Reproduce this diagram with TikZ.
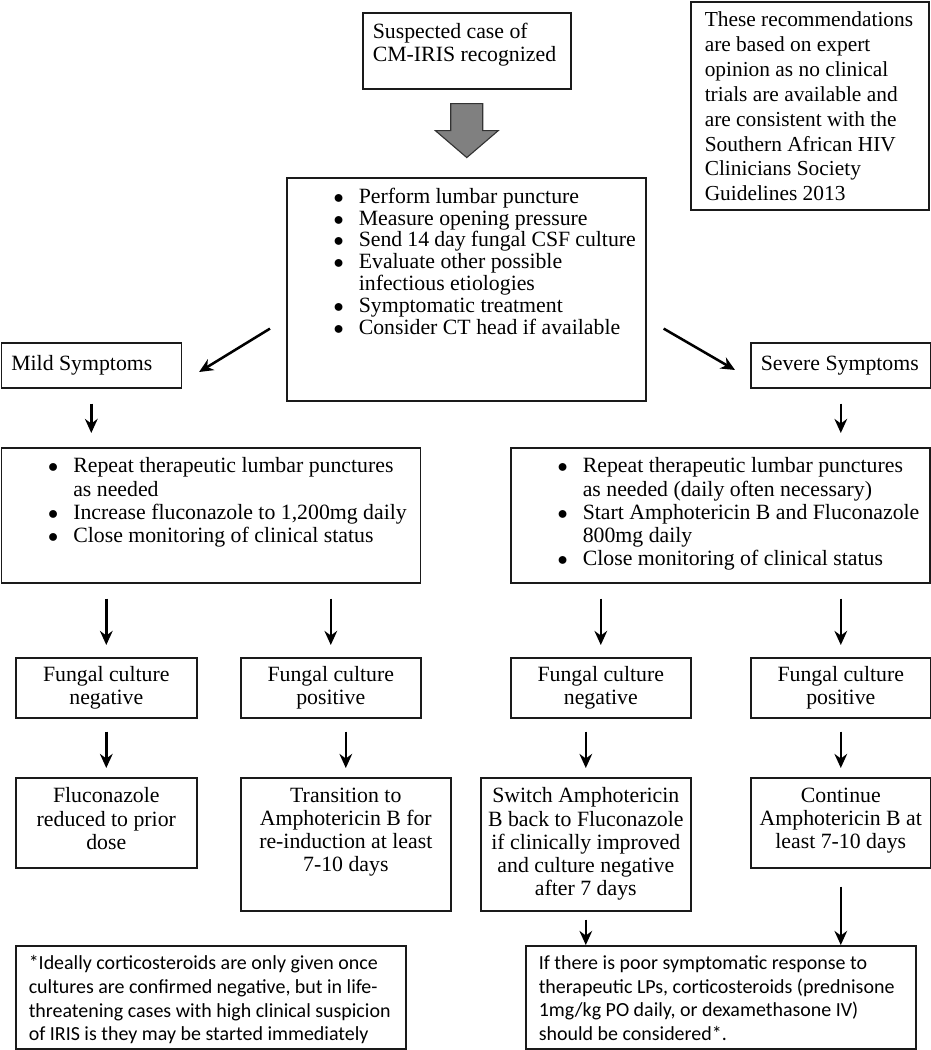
\documentclass[tikz,border=0pt]{standalone}
\usepackage{fontspec}
\setmainfont{Liberation Serif}
\newfontfamily\calfont{Carlito}
\usetikzlibrary{arrows.meta, calc}
\usepackage{xcolor}
\definecolor{boxLine}{HTML}{1A1A1A}
\definecolor{blockFill}{HTML}{808080}
\newcommand{\cell}[4]{\parbox[t][#2][#3]{#1}{#4}}
\newcommand{\bul}[1]{\par\leftskip=1.55cm\noindent\llap{\makebox[0.63cm][l]{$\bullet$}}#1\par}
\tikzset{
    BoxStyle/.style={draw=boxLine, line width=1.1pt, rectangle, anchor=north west, inner xsep=0.25cm, inner ysep=0.25cm},
    MidBox/.style={BoxStyle, inner xsep=0.05cm},
    MainText/.style={font=\fontsize{15.5}{16.5}\selectfont},
    ListText/.style={font=\fontsize{15.5}{15.6}\selectfont},
    NoteText/.style={font=\fontsize{15.2}{17.7}\selectfont},
    FootText/.style={font=\calfont\fontsize{14.2}{16.8}\selectfont, inner xsep=0.325cm},
    FlowArrow/.style={-{Stealth[length=10pt, width=9pt]}, line width=1.8pt}
}

\begin{document}
\begin{tikzpicture}[x=0.025cm, y=-0.025cm]
    \useasboundingbox (0,0) rectangle (931,1050);

    % top
    \node[BoxStyle, MainText] (susp) at (362,12) {\cell{4.7cm}{1.4cm}{t}{Suspected case of\\CM-IRIS recognized}};
    \node[BoxStyle, NoteText, inner xsep=0.35cm] (note) at (690,1) {\cell{5.25cm}{4.7cm}{t}{These recommendations\\are based on expert\\opinion as no clinical\\trials are available and\\are consistent with the\\Southern African HIV\\Clinicians Society\\Guidelines 2013}};

    \node[BoxStyle, ListText] (center) at (286,177) {\cell{8.475cm}{5.075cm}{t}{%
        \bul{Perform lumbar puncture}
        \bul{Measure opening pressure}
        \bul{Send 14 day fungal CSF culture}
        \bul{Evaluate other possible\\infectious etiologies}
        \bul{Symptomatic treatment}
        \bul{Consider CT head if available}}};

    % big grey arrow
    \draw[draw=black!80, line width=0.8pt, fill=blockFill] ($(susp.south)+(-16,14)$) -- ++(32,0) -- ++(0,27) -- ++(15.5,0) -- ++(-31.5,27) -- ++(-31.5,-27) -- ++(15.5,0) -- cycle;

    % symptoms
    \node[BoxStyle, MainText] (mild) at (0.5,342) {\cell{4cm}{0.625cm}{c}{Mild Symptoms}};
    \node[BoxStyle, MainText] (severe) at (750,342) {\cell{4cm}{0.625cm}{c}{Severe Symptoms}};
    \draw[FlowArrow] ($(center.south west)+(-16,-73)$) -- ($(mild.north east)+(17,30)$);
    \draw[FlowArrow] ($(center.south east)+(17,-73)$) -- ($(severe.north west)+(-15,28)$);

    \node[BoxStyle, MainText] (lbul) at (0.5,447) {\cell{9.975cm}{2.875cm}{t}{%
        \bul{Repeat therapeutic lumbar punctures\\as needed}
        \bul{Increase fluconazole to 1,200mg daily}
        \bul{Close monitoring of clinical status}}};
    \node[BoxStyle, MainText] (rbul) at (510,447) {\cell{9.975cm}{2.875cm}{t}{%
        \bul{Repeat therapeutic lumbar punctures\\as needed (daily often necessary)}
        \bul{Start Amphotericin B and Fluconazole\\800mg daily}
        \bul{Close monitoring of clinical status}}};
    \draw[FlowArrow, shorten <=0.375cm, shorten >=0.35cm] (mild.south) -- (mild.south |- lbul.north);
    \draw[FlowArrow, shorten <=0.375cm, shorten >=0.35cm] (severe.south) -- (severe.south |- rbul.north);

    % culture results
    \node[MidBox, MainText] (fneg1) at (15,657) {\cell{4.425cm}{1cm}{c}{\centering Fungal culture\\negative}};
    \node[MidBox, MainText] (fpos1) at (240,657) {\cell{4.4cm}{1cm}{c}{\centering Fungal culture\\positive}};
    \node[MidBox, MainText] (fneg2) at (510,657) {\cell{4.4cm}{1cm}{c}{\centering Fungal culture\\negative}};
    \node[MidBox, MainText] (fpos2) at (750,657) {\cell{4.4cm}{1cm}{c}{\centering Fungal culture\\positive}};
    \foreach \a/\b in {lbul/fneg1, lbul/fpos1, rbul/fneg2, rbul/fpos2}
        \draw[FlowArrow, shorten <=0.375cm, shorten >=0.3cm] (\b.north |- \a.south) -- (\b.north);

    % actions
    \node[MidBox, MainText] (res1) at (15,777) {\cell{4.425cm}{1.75cm}{t}{\centering Fluconazole\\reduced to prior\\dose}};
    \node[MidBox, MainText] (res2) at (240,777) {\cell{5.15cm}{2.825cm}{t}{\centering Transition to\\Amphotericin B for\\re-induction at least\\7-10 days}};
    \node[MidBox, MainText] (res3) at (480,777) {\cell{5.15cm}{2.825cm}{t}{\centering Switch Amphotericin\\B back to Fluconazole\\if clinically improved\\and culture negative\\after 7 days}};
    \node[MidBox, MainText] (res4) at (750,777) {\cell{4.4cm}{1.75cm}{t}{\centering Continue\\Amphotericin B at\\least 7-10 days}};
    \foreach \a/\b in {fneg1/res1, fpos1/res2, fneg2/res3, fpos2/res4}
        \draw[FlowArrow, shorten <=0.325cm, shorten >=0.225cm] (\b.north |- \a.south) -- (\b.north);

    % footnotes
    \node[BoxStyle, FootText] (foot1) at (15,945) {\cell{9.1cm}{2.075cm}{t}{*Ideally corticosteroids are only given once\\cultures are confirmed negative, but in life-\\threatening cases with high clinical suspicion\\of IRIS is they may be started immediately}};
    \node[BoxStyle, FootText] (foot2) at (525,945) {\cell{9.1cm}{2.075cm}{t}{If there is poor symptomatic response to\\therapeutic LPs, corticosteroids (prednisone\\1mg/kg PO daily, or dexamethasone IV)\\should be considered*.}};
    \draw[FlowArrow, shorten <=0.2cm] (res3.south) -- (res3.south |- foot2.north);
    \draw[FlowArrow, shorten <=0.45cm] (res4.south) -- (res4.south |- foot2.north);
\end{tikzpicture}
\end{document}
